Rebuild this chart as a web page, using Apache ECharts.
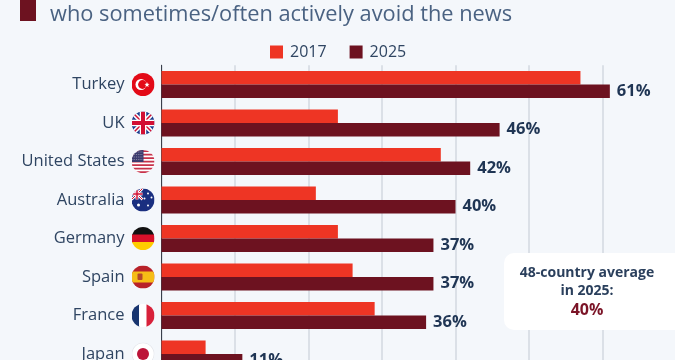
<!DOCTYPE html>
<html>
<head>
<meta charset="utf-8">
<style>
  html, body { margin: 0; padding: 0; background: #f4f7fb; }
  #chart { width: 675px; height: 360px; }
</style>
<script src="https://cdn.jsdelivr.net/npm/echarts@6/dist/echarts.min.js"></script>
</head>
<body>
<div id="chart"></div>
<script>
const categories = ['Turkey', 'UK', 'United States', 'Australia', 'Germany', 'Spain', 'France', 'Japan']
const years = ['2017', '2025']
const values2017 = [57, 24, 38, 21, 24, 26, 29, 6]
const values2025 = [61, 46, 42, 40, 37, 37, 36, 11]

const FONT = '"Open Sans", sans-serif'
const RED = '#ee3524'
const DARK = '#6d1220'

// little round flags, used as rich text backgrounds on the axis labels
const flagArt = {
  Turkey: '<rect width="46" height="46" fill="#e30a17"/><circle cx="19" cy="23" r="11" fill="#fff"/><circle cx="22" cy="23" r="8.8" fill="#e30a17"/><path d="M31 18l1.4 3.6 3.8.2-3 2.4 1 3.7-3.2-2.1-3.2 2.1 1-3.7-3-2.4 3.8-.2z" fill="#fff"/>',
  UK: '<rect width="46" height="46" fill="#1f3f8f"/><path d="M0 0L46 46M46 0L0 46" stroke="#fff" stroke-width="9"/><path d="M0 0L46 46M46 0L0 46" stroke="#d21034" stroke-width="3"/><path d="M23 0V46M0 23H46" stroke="#fff" stroke-width="13"/><path d="M23 0V46M0 23H46" stroke="#d21034" stroke-width="8"/>',
  'United States': '<rect width="46" height="46" fill="#fff"/><path d="M0 2H46M0 9H46M0 16H46M0 23H46M0 30H46M0 37H46M0 44H46" stroke="#c8324a" stroke-width="3.5"/><rect width="24" height="24" fill="#3c3b6e"/><path d="M2 4H22M2 9H22M2 14H22M2 19H22" stroke="#aab" stroke-width="1.6" stroke-dasharray="1.6 2"/>',
  Australia: '<rect width="46" height="46" fill="#1a2f80"/><path d="M0 0L22 22M22 0L0 22" stroke="#fff" stroke-width="5"/><path d="M0 0L22 22M22 0L0 22" stroke="#d21034" stroke-width="2"/><path d="M11 0V22M0 11H22" stroke="#fff" stroke-width="6"/><path d="M11 0V22M0 11H22" stroke="#d21034" stroke-width="3"/><g fill="#fff"><circle cx="14" cy="33" r="3"/><circle cx="33" cy="10" r="2"/><circle cx="33" cy="34" r="2"/><circle cx="26" cy="20" r="2"/><circle cx="40" cy="18" r="2"/></g>',
  Germany: '<rect width="46" height="16" fill="#111"/><rect y="15" width="46" height="16" fill="#d8112a"/><rect y="30" width="46" height="16" fill="#ffcc00"/>',
  Spain: '<rect width="46" height="46" fill="#b8222a"/><rect y="12" width="46" height="22" fill="#f6bd16"/><rect x="12" y="16" width="10" height="13" rx="2" fill="#b5482a"/>',
  France: '<rect width="16" height="46" fill="#18356f"/><rect x="15" width="16" height="46" fill="#fff"/><rect x="30" width="16" height="46" fill="#d8213a"/>',
  Japan: '<circle cx="23" cy="23" r="23" fill="#e3e5ea"/><circle cx="23" cy="23" r="21.5" fill="#fff"/><circle cx="23" cy="23" r="12" fill="#bc1438"/>'
}

function flagUri (art) {
  let svg = '<svg xmlns="http://www.w3.org/2000/svg" width="46" height="46" viewBox="0 0 46 46">' +
    '<defs><clipPath id="c"><circle cx="23" cy="23" r="23"/></clipPath></defs><g clip-path="url(#c)">' + art + '</g></svg>'
  return 'data:image/svg+xml;charset=utf-8,' + encodeURIComponent(svg)
}

let rich = { name: { fontFamily: FONT, fontSize: 16.5, color: '#2f4562', padding: [0, 7, 0, 0] } }
categories.forEach((c, i) => {
  rich['f' + i] = { width: 23, height: 23, backgroundColor: { image: flagUri(flagArt[c]) } }
})

let myChart = echarts.init(document.getElementById('chart'))
myChart.setOption({
  backgroundColor: '#f4f7fb',
  animation: false,
  textStyle: { fontFamily: FONT },
  title: {
    text: 'who sometimes/often actively avoid the news',
    left: 45,
    top: -1,
    textStyle: { fontFamily: FONT, fontSize: 21.8, fontWeight: 'normal', color: '#4a6282' }
  },
  legend: {
    data: years,
    top: 39,
    left: 265,
    itemWidth: 13,
    itemHeight: 13,
    itemGap: 23,
    icon: 'rect',
    textStyle: { fontFamily: FONT, fontSize: 16, color: '#2f4562', padding: [0, 0, 0, 2] }
  },
  grid: { left: 161.5, top: 65.25, width: 514.5, height: 308, outerBoundsMode: 'none' },
  xAxis: {
    type: 'value',
    min: 0,
    max: 70,
    interval: 10,
    axisLabel: { show: false },
    axisTick: { show: false },
    axisLine: { show: false },
    splitLine: { lineStyle: { color: '#d3d8e0', width: 1.5 } }
  },
  yAxis: {
    type: 'category',
    inverse: true,
    data: categories,
    axisTick: { show: false },
    axisLine: { lineStyle: { color: '#3a3f4a', width: 1 } },
    axisLabel: {
      margin: 7,
      formatter: (v, i) => '{name|' + v + '}{f' + i + '|}',
      rich: rich
    }
  },
  series: [{
    name: years[0],
    type: 'bar',
    barWidth: 13.5,
    barGap: 0,
    data: values2017,
    itemStyle: { color: RED }
  }, {
    name: years[1],
    type: 'bar',
    barWidth: 13.5,
    barGap: 0,
    data: values2025,
    itemStyle: { color: DARK },
    label: {
      show: true,
      position: 'right',
      distance: 7,
      formatter: '{c}%',
      fontFamily: FONT,
      fontSize: 16.5,
      fontWeight: 'bold',
      color: '#1f3554'
    }
  }],
  graphic: [
    { type: 'rect', z: 10, left: 20, top: -1, shape: { width: 16, height: 22 }, style: { fill: DARK } },
    { type: 'rect', z: 10, left: 504, top: 253, shape: { width: 200, height: 77, r: 10 }, style: { fill: '#fff' } },
    { type: 'text', z: 11, x: 587, y: 273, style: { text: '48-country average', fontFamily: FONT, fontSize: 14, fontWeight: 'bold', fill: '#2a3f5c', align: 'center', verticalAlign: 'middle' } },
    { type: 'text', z: 11, x: 587, y: 291, style: { text: 'in 2025:', fontFamily: FONT, fontSize: 14, fontWeight: 'bold', fill: '#2a3f5c', align: 'center', verticalAlign: 'middle' } },
    { type: 'text', z: 11, x: 587, y: 310, style: { text: '40%', fontFamily: FONT, fontSize: 16, fontWeight: 'bold', fill: '#7b1427', align: 'center', verticalAlign: 'middle' } }
  ]
})
</script>
</body>
</html>
